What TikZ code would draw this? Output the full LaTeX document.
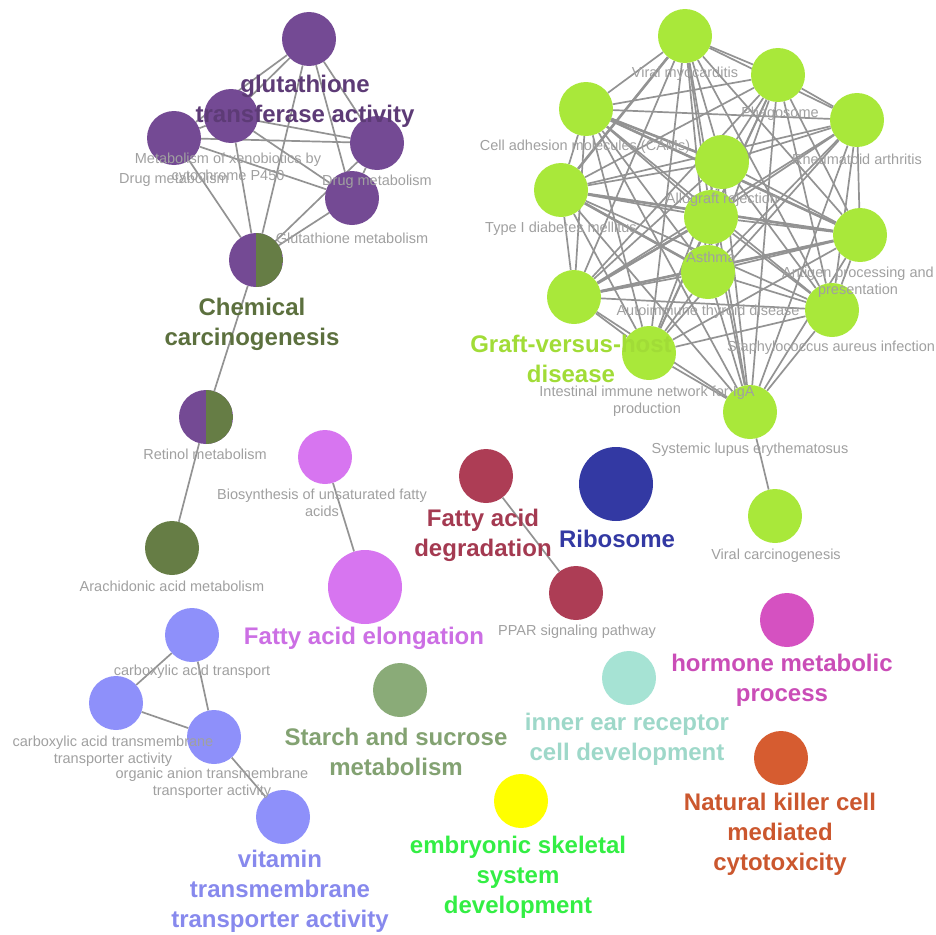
\documentclass[tikz,border=0pt]{standalone}
\usepackage{fontspec}
\setmainfont{Liberation Sans}
\usetikzlibrary{backgrounds}

\definecolor{purp}{HTML}{744A94}
\definecolor{olive}{HTML}{667D45}
\definecolor{lime}{HTML}{A9E83A}
\definecolor{violet}{HTML}{D775F0}
\definecolor{crimson}{HTML}{AD3D55}
\definecolor{navy}{HTML}{3339A3}
\definecolor{peri}{HTML}{8E90FA}
\definecolor{sage}{HTML}{8AAB78}
\definecolor{aqua}{HTML}{A6E3D4}
\definecolor{magen}{HTML}{D551C1}
\definecolor{rust}{HTML}{D65C30}
\definecolor{yel}{HTML}{FFFF00}
\definecolor{embgreen}{HTML}{33EE44}
\definecolor{lblgray}{HTML}{A0A0A0}
\definecolor{edgegray}{HTML}{939393}

\tikzset{
  term/.style={circle, inner sep=0pt, minimum size=54pt},
  bigterm/.style={circle, inner sep=0pt, minimum size=74pt},
  split/.style={term, fill=purp, path picture={\fill[olive] (path picture bounding box.north) rectangle (path picture bounding box.south east);}},
  lbl/.style={text=lblgray, font=\fontsize{14.5}{17.5}\selectfont, align=center, inner sep=0pt},
  grp/.style={font=\fontsize{24}{30}\selectfont\bfseries, align=center, inner sep=0pt},
  link/.style={draw=edgegray, line width=1.7pt},
  thicklink/.style={draw=edgegray, line width=2.6pt}
}

\begin{document}
\begin{tikzpicture}[x=1pt, y=-1pt]
\useasboundingbox (0,0) rectangle (936,934);

% glutathione cluster
\node[term, fill=purp] (gt) at (309,39) {};
\node[term, fill=purp] (mx) at (231,116) {};
\node[term, fill=purp] (dma) at (174,138) {};
\node[term, fill=purp] (dmb) at (377,143) {};
\node[term, fill=purp] (glm) at (352,198) {};
\node[split] (cc) at (256,260) {};
\node[split] (ret) at (206,417) {};
\node[term, fill=olive] (ara) at (172,548) {};

% graft-versus-host cluster
\node[term, fill=lime] (vm) at (685,36) {};
\node[term, fill=lime] (ph) at (778,75) {};
\node[term, fill=lime] (ra) at (857,120) {};
\node[term, fill=lime] (cam) at (586,109) {};
\node[term, fill=lime] (ar) at (722,162) {};
\node[term, fill=lime] (tid) at (561,190) {};
\node[term, fill=lime] (as) at (711,217) {};
\node[term, fill=lime] (atd) at (708,272) {};
\node[term, fill=lime] (ap) at (860,235) {};
\node[term, fill=lime] (gvh) at (574,297) {};
\node[term, fill=lime] (sa) at (832,310) {};
\node[term, fill=lime] (iga) at (649,353) {};
\node[term, fill=lime] (sle) at (750,412) {};
\node[term, fill=lime] (vc) at (775,516) {};

% fatty acids
\node[term, fill=violet] (bua) at (325,457) {};
\node[bigterm, fill=violet] (fae) at (365,587) {};
\node[term, fill=crimson] (fad) at (486,476) {};
\node[term, fill=crimson] (ppar) at (576,593) {};
\node[bigterm, fill=navy] (rib) at (616,484) {};

% transporters
\node[term, fill=peri] (cat) at (192,635) {};
\node[term, fill=peri] (catm) at (116,703) {};
\node[term, fill=peri] (oat) at (214,737) {};
\node[term, fill=peri] (vit) at (283,817) {};

% singletons
\node[term, fill=magen] (hmp) at (787,620) {};
\node[term, fill=aqua] (ier) at (629,678) {};
\node[term, fill=sage] (ss) at (400,690) {};
\node[term, fill=rust] (nk) at (781,758) {};
\node[term, fill=yel] (ess) at (521,801) {};

\begin{scope}[on background layer]
\foreach \a/\b in {gt/mx,gt/dma,gt/dmb,gt/glm,gt/cc,mx/dma,mx/dmb,mx/glm,mx/cc,dma/dmb,dma/glm,dma/cc,dmb/glm,dmb/cc,glm/cc,cc/ret,ret/ara,bua/fae,fad/ppar,cat/catm,cat/oat,catm/oat,oat/vit,sle/vc}
  \draw[link] (\a) -- (\b);
\foreach \a/\i in {vm/1,ph/2,ra/3,cam/4,ar/5,tid/6,as/7,atd/8,ap/9,gvh/10,sa/11,iga/12,sle/13}
  \foreach \b/\j in {vm/1,ph/2,ra/3,cam/4,ar/5,tid/6,as/7,atd/8,ap/9,gvh/10,sa/11,iga/12,sle/13}
    {\ifnum\i<\j \draw[link] (\a) -- (\b); \fi}
\foreach \a/\b in {gvh/ap,tid/ap,cam/ap,tid/atd,cam/ar,vm/tid,gvh/as}
  \draw[thicklink] (\a) -- (\b);
\end{scope}

% small labels
\node[lbl] (l-mx) at (228,168) {Metabolism of xenobiotics by\\cytochrome P450};
\node[lbl] (l-dma) at (174,180) {Drug metabolism};
\node[lbl] (l-dmb) at (377,182) {Drug metabolism};
\node[lbl] (l-glm) at (352,238) {Glutathione metabolism};
\node[lbl] (l-ret) at (205,454) {Retinol metabolism};
\node[lbl] (l-ara) at (172,586) {Arachidonic acid metabolism};
\node[lbl] (l-vm) at (685,74) {Viral myocarditis};
\node[lbl] (l-ph) at (780,114) {Phagosome};
\node[lbl] (l-ra) at (857,159) {Rheumatoid arthritis};
\node[lbl] (l-cam) at (585,147) {Cell adhesion molecules (CAMs)};
\node[lbl] (l-ar) at (722,200) {Allograft rejection};
\node[lbl] (l-tid) at (561,229) {Type I diabetes mellitus};
\node[lbl] (l-as) at (711,257) {Asthma};
\node[lbl] (l-ap) at (858,282) {Antigen processing and\\presentation};
\node[lbl] (l-atd) at (708,312) {Autoimmune thyroid disease};
\node[lbl] (l-sa) at (831,348) {Staphylococcus aureus infection};
\node[lbl] (l-iga) at (647,401) {Intestinal immune network for IgA\\production};
\node[lbl] (l-sle) at (750,450) {Systemic lupus erythematosus};
\node[lbl] (l-vc) at (776,556) {Viral carcinogenesis};
\node[lbl] (l-bua) at (322,503) {Biosynthesis of unsaturated fatty\\acids};
\node[lbl] (l-ppar) at (577,632) {PPAR signaling pathway};
\node[lbl] (l-cat) at (192,672) {carboxylic acid transport};
\node[lbl] (l-catm) at (113,751) {carboxylic acid transmembrane\\transporter activity};
\node[lbl] (l-oat) at (212,783) {organic anion transmembrane\\transporter activity};

% group labels
\node[grp, text=purp!80!black] (g-gt) at (305,101) {glutathione\\transferase activity};
\node[grp, text=olive!90!black] (g-cc) at (252,324) {Chemical\\carcinogenesis};
\node[grp, text=lime!95!black] (g-gvh) at (571,359) {Graft-versus-host\\disease};
\node[grp, text=violet!95!black] (g-fae) at (364,638) {Fatty acid elongation};
\node[grp, text=crimson!95!black] (g-fad) at (483,535) {Fatty acid\\degradation};
\node[grp, text=navy] (g-rib) at (617,539) {Ribosome};
\node[grp, text=magen!95!black] (g-hmp) at (782,680) {hormone metabolic\\process};
\node[grp, text=aqua!95!black] (g-ier) at (627,739) {inner ear receptor\\cell development};
\node[grp, text=sage!95!black] (g-ss) at (396,752) {Starch and sucrose\\metabolism};
\node[grp, text=rust!95!black] (g-nk) at (780,834) {Natural killer cell\\mediated\\cytotoxicity};
\node[grp, text=embgreen] (g-ess) at (518,877) {embryonic skeletal\\system\\development};
\node[grp, text=peri!95!black] (g-vit) at (280,891) {vitamin\\transmembrane\\transporter activity};
\end{tikzpicture}
\end{document}
